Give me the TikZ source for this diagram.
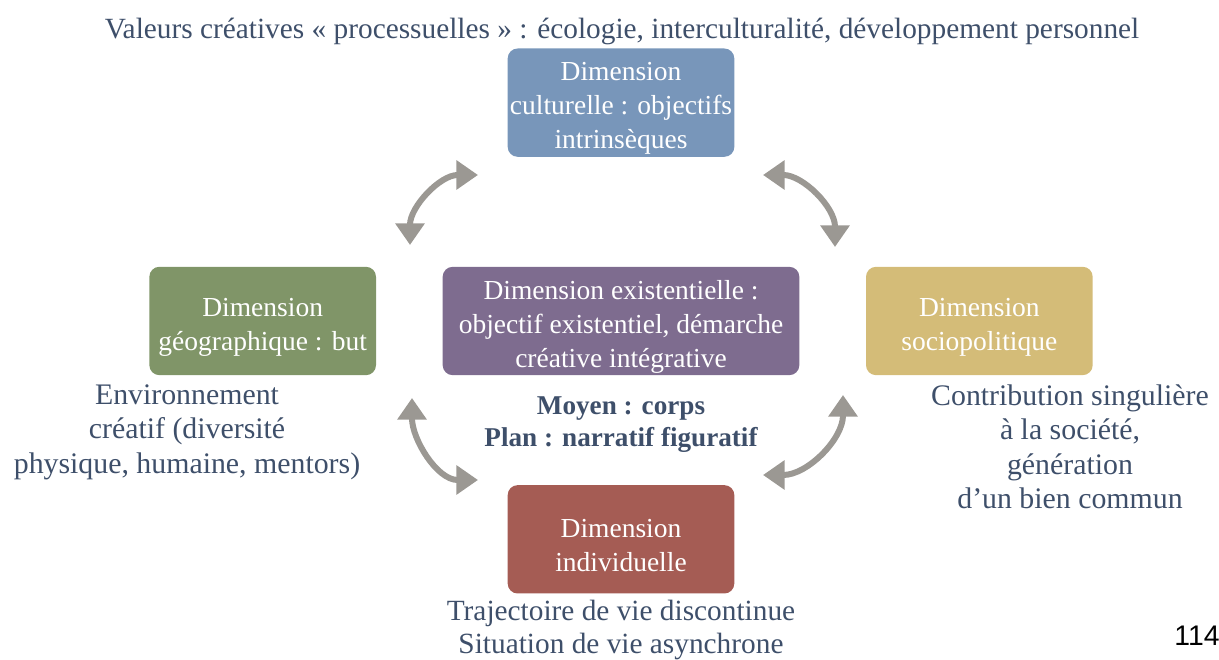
\documentclass[tikz,border=0pt]{standalone}
\usepackage{fontspec}
\setmainfont{Liberation Serif}
\setsansfont{Liberation Sans}
\usetikzlibrary{arrows.meta,positioning}

\definecolor{txtblue}{HTML}{3E4F6A}
\definecolor{cultblue}{HTML}{7896BA}
\definecolor{geogreen}{HTML}{809568}
\definecolor{exviolet}{HTML}{7E6C8F}
\definecolor{sociogold}{HTML}{D4BC78}
\definecolor{indred}{HTML}{A55C54}
\definecolor{linkgray}{HTML}{9B9893}
\newcommand{\dimlift}{\rule{0pt}{18pt}}

\begin{document}
\begin{tikzpicture}[x=0.6pt,y=0.6pt,node distance=131pt,
                    font=\fontsize{16.5}{20.4}\selectfont]
  \tikzstyle{dim}=[rectangle,rounded corners=6pt,fill=white,text=white,
                   minimum width=136pt,minimum height=65pt,inner sep=0pt,align=center]
  \tikzstyle{note}=[align=center,text=txtblue,inner sep=0pt]
  \tikzstyle{link}=[{Triangle[width=17pt,length=13pt]}-{Triangle[width=17pt,length=13pt]},
                    line width=3.6pt,draw=linkgray]

  \useasboundingbox (0,0) rectangle (1219,660);

  \node[dim,fill=exviolet,minimum width=214pt] (ex) at (621,339)
        {\dimlift Dimension existentielle :\\ objectif existentiel, démarche\\ créative intégrative};
  \node[dim,fill=cultblue]  (cult)  [above of=ex] {\dimlift Dimension\\ culturelle : objectifs\\ intrinsèques};
  \node[dim,fill=indred]    (ind)   [below of=ex] {\dimlift Dimension\\ individuelle};
  \node[dim,fill=geogreen]  (geo)   [left of=ex,node distance=215pt]  {\dimlift Dimension\\ géographique : but};
  \node[dim,fill=sociogold] (socio) [right of=ex,node distance=215pt] {\dimlift Dimension\\ sociopolitique};

  \node[note,font=\fontsize{17.6}{20}\selectfont] (val) at (622,629)
        {Valeurs créatives « processuelles » : écologie, interculturalité, développement personnel};
  \node[note,font=\fontsize{16.3}{19.2}\selectfont\bfseries] (moyen) at (621,235)
        {Moyen : corps\\ Plan : narratif figuratif};
  \node[note,font=\fontsize{17.9}{20.7}\selectfont] (env) at (187,228)
        {Environnement\\ créatif (diversité\\ physique, humaine, mentors)};
  \node[note,font=\fontsize{17.9}{20.7}\selectfont] (contrib) at (1070,213)
        {Contribution singulière\\ à la société,\\ génération\\ d’un bien commun};
  \node[note,font=\fontsize{17.6}{19.8}\selectfont] (traj) at (621,30)
        {Trajectoire de vie discontinue\\ Situation de vie asynchrone};
  \node[font=\sffamily\fontsize{17}{20}\selectfont,inner sep=0pt] (page) at (1197,24) {114};

  \coordinate (a1) at (410,415);  \coordinate (b1) at (478,485);
  \coordinate (a2) at (763,485);  \coordinate (b2) at (835,413);
  \coordinate (a3) at (412,262);  \coordinate (b3) at (478,180);
  \coordinate (a4) at (843,265);  \coordinate (b4) at (763,185);

  \draw[link] (a1) to[out=90,in=180]  (b1);
  \draw[link] (a2) to[out=0,in=90]    (b2);
  \draw[link] (a3) to[out=270,in=180] (b3);
  \draw[link] (a4) to[out=270,in=0]   (b4);
\end{tikzpicture}
\end{document}
